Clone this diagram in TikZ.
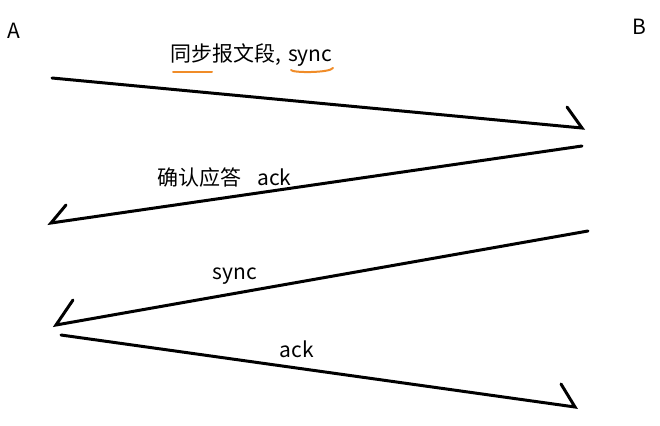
\documentclass[tikz,border=0pt]{standalone}
\usepackage{fontspec}
\setmainfont{Noto Sans CJK SC}
\begin{document}
\begin{tikzpicture}[x=1pt,y=-1pt,
  msg/.style={line width=3pt,line cap=round,black},
  lbl/.style={inner sep=0pt,anchor=base,font=\fontsize{21}{24}\selectfont},
  ul/.style={line width=2pt,line cap=round,draw={rgb,255:red,240;green,140;blue,40}}]
\useasboundingbox[fill=white] (0,0) rectangle (660,425);
\node[lbl] (A) at (14,39) {A};
\node[lbl] (B) at (639,35) {B};
% endpoints
\coordinate (s1) at (52,78);   \coordinate (e1) at (582,128); \coordinate (h1) at (567,107);
\coordinate (s2) at (582,146); \coordinate (e2) at (51,223);  \coordinate (h2) at (66,205);
\coordinate (s3) at (588,231); \coordinate (e3) at (56,325);  \coordinate (h3) at (73,300);
\coordinate (s4) at (61,335);  \coordinate (e4) at (575,407); \coordinate (h4) at (561,384);
\draw[msg] (s1) -- (e1) -- (h1);
\draw[msg] (s2) -- (e2) -- (h2);
\draw[msg] (s3) -- (e3) -- (h3);
\draw[msg] (s4) -- (e4) -- (h4);
% labels
\node[lbl,anchor=base west] (l1) at (170,62) {同步报文段,\hspace{7pt}sync};
\coordinate (u1a) at (173,72); \coordinate (u1b) at (212,72);
\coordinate (u2a) at (291,70); \coordinate (u2b) at (333,68);
\draw[ul] (u1a) -- (u1b);
\draw[ul] (u2a) .. controls (292,73) and (330,73) .. (u2b);
\node[lbl,anchor=base west] (l2) at (157,185) {确认应答\hspace{16pt}ack};
\node[lbl] (l3) at (235,279) {sync};
\node[lbl] (l4) at (297,357) {ack};
\end{tikzpicture}
\end{document}
